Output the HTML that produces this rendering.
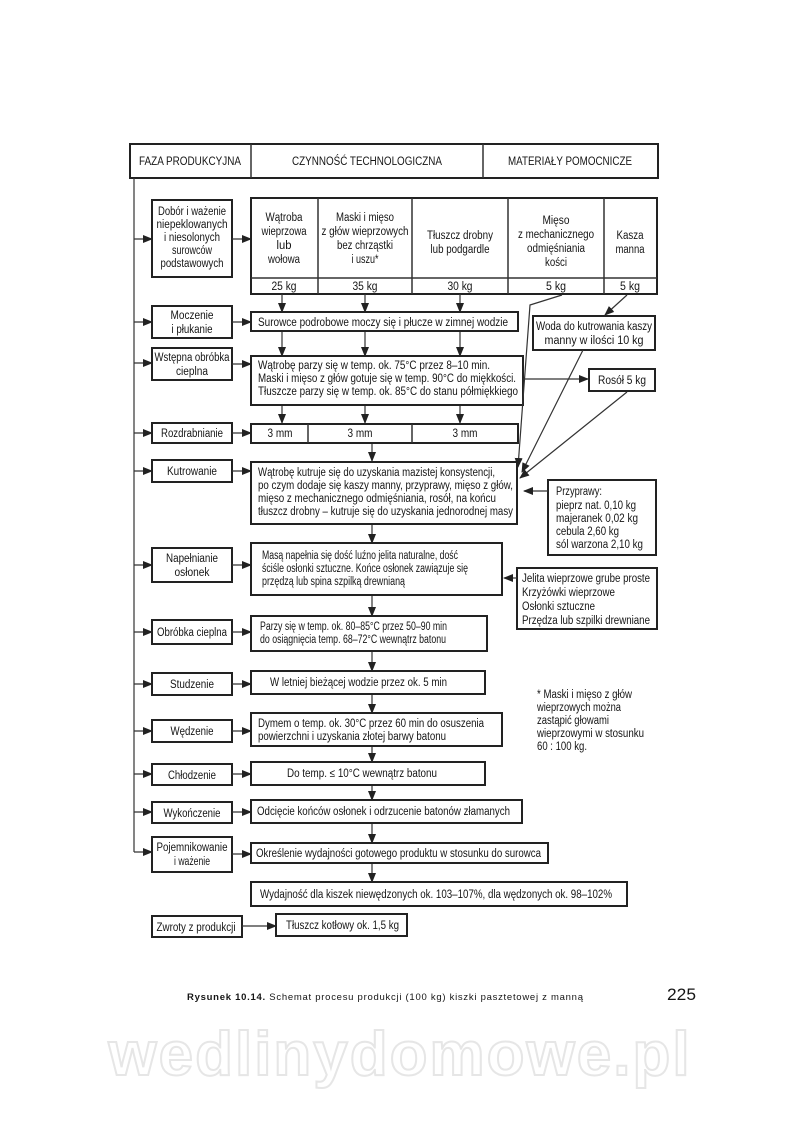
<!DOCTYPE html>
<html><head><meta charset="utf-8"><style>
html,body{margin:0;padding:0;background:#fff}
svg{display:block}
text{font-family:"Liberation Sans",sans-serif;font-size:11.5px;fill:#151515}
.b{fill:#fff;stroke:#222;stroke-width:2}
.l{stroke:#333;stroke-width:1.2;fill:none}
</style></head><body>
<svg width="800" height="1141" viewBox="0 0 800 1141" xmlns="http://www.w3.org/2000/svg">
<defs><marker id="a" markerWidth="10" markerHeight="8" refX="9" refY="4" orient="auto" markerUnits="userSpaceOnUse"><path d="M0,0 L10,4 L0,8 z" fill="#222"/></marker></defs>

<text x="400" y="1075" text-anchor="middle" style="font-size:62px;font-weight:bold;fill:#fff;stroke:#e6e6e6;stroke-width:2;letter-spacing:2px">wedlinydomowe.pl</text>

<rect class="b" x="130" y="144" width="528" height="34"/>
<line class="l" x1="251" y1="144" x2="251" y2="178" style="stroke-width:1.5"/>
<line class="l" x1="483" y1="144" x2="483" y2="178" style="stroke-width:1.5"/>
<text x="190" y="165" text-anchor="middle" textLength="102" lengthAdjust="spacingAndGlyphs">FAZA PRODUKCYJNA</text>
<text x="367" y="165" text-anchor="middle" textLength="150" lengthAdjust="spacingAndGlyphs">CZYNNOŚĆ TECHNOLOGICZNA</text>
<text x="570" y="165" text-anchor="middle" textLength="124" lengthAdjust="spacingAndGlyphs">MATERIAŁY POMOCNICZE</text>

<line class="l" x1="134" y1="178" x2="134" y2="852"/>
<g class="l" marker-end="url(#a)">
<line x1="134" y1="239" x2="152" y2="239"/>
<line x1="134" y1="322" x2="152" y2="322"/>
<line x1="134" y1="363" x2="152" y2="363"/>
<line x1="134" y1="433" x2="152" y2="433"/>
<line x1="134" y1="471" x2="152" y2="471"/>
<line x1="134" y1="565" x2="152" y2="565"/>
<line x1="134" y1="632" x2="152" y2="632"/>
<line x1="134" y1="684" x2="152" y2="684"/>
<line x1="134" y1="731" x2="152" y2="731"/>
<line x1="134" y1="774" x2="152" y2="774"/>
<line x1="134" y1="812" x2="152" y2="812"/>
<line x1="134" y1="852" x2="152" y2="852"/>
</g>

<rect class="b" x="152" y="200" width="80" height="77"/>
<text x="192" y="215" text-anchor="middle" textLength="68" lengthAdjust="spacingAndGlyphs">Dobór i ważenie</text>
<text x="192" y="228" text-anchor="middle" textLength="71" lengthAdjust="spacingAndGlyphs">niepeklowanych</text>
<text x="192" y="241" text-anchor="middle" textLength="56" lengthAdjust="spacingAndGlyphs">i niesolonych</text>
<text x="192" y="254" text-anchor="middle" textLength="40" lengthAdjust="spacingAndGlyphs">surowców</text>
<text x="192" y="267" text-anchor="middle" textLength="63" lengthAdjust="spacingAndGlyphs">podstawowych</text>

<rect class="b" x="152" y="306" width="80" height="32"/>
<text x="192" y="319" text-anchor="middle" textLength="43" lengthAdjust="spacingAndGlyphs">Moczenie</text>
<text x="192" y="333" text-anchor="middle" textLength="41" lengthAdjust="spacingAndGlyphs">i płukanie</text>

<rect class="b" x="152" y="348" width="80" height="32"/>
<text x="192" y="361" text-anchor="middle" textLength="75" lengthAdjust="spacingAndGlyphs">Wstępna obróbka</text>
<text x="192" y="375" text-anchor="middle" textLength="32" lengthAdjust="spacingAndGlyphs">cieplna</text>

<rect class="b" x="152" y="423" width="80" height="20"/>
<text x="192" y="437" text-anchor="middle" textLength="62" lengthAdjust="spacingAndGlyphs">Rozdrabnianie</text>

<rect class="b" x="152" y="460" width="80" height="22"/>
<text x="192" y="475" text-anchor="middle" textLength="50" lengthAdjust="spacingAndGlyphs">Kutrowanie</text>

<rect class="b" x="152" y="548" width="80" height="34"/>
<text x="192" y="562" text-anchor="middle" textLength="52" lengthAdjust="spacingAndGlyphs">Napełnianie</text>
<text x="192" y="576" text-anchor="middle" textLength="35" lengthAdjust="spacingAndGlyphs">osłonek</text>

<rect class="b" x="152" y="620" width="80" height="24"/>
<text x="192" y="636" text-anchor="middle" textLength="70" lengthAdjust="spacingAndGlyphs">Obróbka cieplna</text>

<rect class="b" x="152" y="673" width="80" height="22"/>
<text x="192" y="688" text-anchor="middle" textLength="44" lengthAdjust="spacingAndGlyphs">Studzenie</text>

<rect class="b" x="152" y="720" width="80" height="22"/>
<text x="192" y="735" text-anchor="middle" textLength="43" lengthAdjust="spacingAndGlyphs">Wędzenie</text>

<rect class="b" x="152" y="764" width="80" height="21"/>
<text x="192" y="779" text-anchor="middle" textLength="48" lengthAdjust="spacingAndGlyphs">Chłodzenie</text>

<rect class="b" x="152" y="802" width="80" height="21"/>
<text x="192" y="817" text-anchor="middle" textLength="57" lengthAdjust="spacingAndGlyphs">Wykończenie</text>

<rect class="b" x="152" y="837" width="80" height="35"/>
<text x="192" y="851" text-anchor="middle" textLength="71" lengthAdjust="spacingAndGlyphs">Pojemnikowanie</text>
<text x="192" y="865" text-anchor="middle" textLength="36" lengthAdjust="spacingAndGlyphs">i ważenie</text>

<rect class="b" x="152" y="916" width="90" height="21"/>
<text x="196" y="931" text-anchor="middle" textLength="79" lengthAdjust="spacingAndGlyphs">Zwroty z produkcji</text>

<g class="l" marker-end="url(#a)">
<line x1="232" y1="239" x2="251" y2="239"/>
<line x1="232" y1="322" x2="251" y2="322"/>
<line x1="232" y1="364" x2="251" y2="364"/>
<line x1="232" y1="433" x2="251" y2="433"/>
<line x1="232" y1="471" x2="251" y2="471"/>
<line x1="232" y1="565" x2="251" y2="565"/>
<line x1="232" y1="632" x2="251" y2="632"/>
<line x1="232" y1="684" x2="251" y2="684"/>
<line x1="232" y1="731" x2="251" y2="731"/>
<line x1="232" y1="774" x2="251" y2="774"/>
<line x1="232" y1="812" x2="251" y2="812"/>
<line x1="232" y1="854" x2="251" y2="854"/>
<line x1="242" y1="926" x2="276" y2="926"/>
</g>

<rect class="b" x="251" y="198" width="406" height="96"/>
<line class="l" x1="251" y1="278" x2="657" y2="278" style="stroke-width:1.5"/>
<g class="l" style="stroke-width:1.5">
<line x1="318" y1="198" x2="318" y2="294"/>
<line x1="412" y1="198" x2="412" y2="294"/>
<line x1="508" y1="198" x2="508" y2="294"/>
<line x1="604" y1="198" x2="604" y2="294"/>
</g>
<text x="284" y="221" text-anchor="middle" textLength="37" lengthAdjust="spacingAndGlyphs">Wątroba</text>
<text x="284" y="235" text-anchor="middle" textLength="45" lengthAdjust="spacingAndGlyphs">wieprzowa</text>
<text x="284" y="249" text-anchor="middle" textLength="15" lengthAdjust="spacingAndGlyphs">lub</text>
<text x="284" y="263" text-anchor="middle" textLength="32" lengthAdjust="spacingAndGlyphs">wołowa</text>
<text x="365" y="221" text-anchor="middle" textLength="58" lengthAdjust="spacingAndGlyphs">Maski i mięso</text>
<text x="365" y="235" text-anchor="middle" textLength="87" lengthAdjust="spacingAndGlyphs">z głów wieprzowych</text>
<text x="365" y="249" text-anchor="middle" textLength="56" lengthAdjust="spacingAndGlyphs">bez chrząstki</text>
<text x="365" y="263" text-anchor="middle" textLength="27" lengthAdjust="spacingAndGlyphs">i uszu*</text>
<text x="460" y="239" text-anchor="middle" textLength="66" lengthAdjust="spacingAndGlyphs">Tłuszcz drobny</text>
<text x="460" y="253" text-anchor="middle" textLength="59" lengthAdjust="spacingAndGlyphs">lub podgardle</text>
<text x="556" y="224" text-anchor="middle" textLength="27" lengthAdjust="spacingAndGlyphs">Mięso</text>
<text x="556" y="238" text-anchor="middle" textLength="76" lengthAdjust="spacingAndGlyphs">z mechanicznego</text>
<text x="556" y="252" text-anchor="middle" textLength="58" lengthAdjust="spacingAndGlyphs">odmięśniania</text>
<text x="556" y="266" text-anchor="middle" textLength="22" lengthAdjust="spacingAndGlyphs">kości</text>
<text x="630" y="239" text-anchor="middle" textLength="27" lengthAdjust="spacingAndGlyphs">Kasza</text>
<text x="630" y="253" text-anchor="middle" textLength="29" lengthAdjust="spacingAndGlyphs">manna</text>
<text x="284" y="290" text-anchor="middle" textLength="25" lengthAdjust="spacingAndGlyphs">25 kg</text>
<text x="365" y="290" text-anchor="middle" textLength="25" lengthAdjust="spacingAndGlyphs">35 kg</text>
<text x="460" y="290" text-anchor="middle" textLength="25" lengthAdjust="spacingAndGlyphs">30 kg</text>
<text x="556" y="290" text-anchor="middle" textLength="20" lengthAdjust="spacingAndGlyphs">5 kg</text>
<text x="630" y="290" text-anchor="middle" textLength="20" lengthAdjust="spacingAndGlyphs">5 kg</text>

<g class="l" marker-end="url(#a)">
<line x1="282" y1="294" x2="282" y2="312"/>
<line x1="365" y1="294" x2="365" y2="312"/>
<line x1="460" y1="294" x2="460" y2="312"/>
<line x1="282" y1="331" x2="282" y2="356"/>
<line x1="365" y1="331" x2="365" y2="356"/>
<line x1="460" y1="331" x2="460" y2="356"/>
<line x1="282" y1="405" x2="282" y2="423"/>
<line x1="365" y1="405" x2="365" y2="423"/>
<line x1="460" y1="405" x2="460" y2="423"/>
<line x1="372" y1="443" x2="372" y2="461"/>
<line x1="372" y1="524" x2="372" y2="543"/>
<line x1="372" y1="595" x2="372" y2="616"/>
<line x1="372" y1="651" x2="372" y2="671"/>
<line x1="372" y1="694" x2="372" y2="713"/>
<line x1="372" y1="746" x2="372" y2="762"/>
<line x1="372" y1="785" x2="372" y2="800"/>
<line x1="372" y1="823" x2="372" y2="843"/>
<line x1="372" y1="863" x2="372" y2="882"/>
</g>

<rect class="b" x="251" y="312" width="267" height="19"/>
<text x="258" y="326" textLength="250" lengthAdjust="spacingAndGlyphs">Surowce podrobowe moczy się i płucze w zimnej wodzie</text>

<rect class="b" x="251" y="356" width="272" height="49"/>
<text x="258" y="369" textLength="232" lengthAdjust="spacingAndGlyphs">Wątrobę parzy się w temp. ok. 75°C przez 8–10 min.</text>
<text x="258" y="382" textLength="258" lengthAdjust="spacingAndGlyphs">Maski i mięso z głów gotuje się w temp. 90°C do miękkości.</text>
<text x="258" y="395" textLength="260" lengthAdjust="spacingAndGlyphs">Tłuszcze parzy się w temp. ok. 85°C do stanu półmiękkiego</text>

<rect class="b" x="251" y="424" width="267" height="19"/>
<line class="l" x1="308" y1="424" x2="308" y2="443" style="stroke-width:1.5"/>
<line class="l" x1="412" y1="424" x2="412" y2="443" style="stroke-width:1.5"/>
<text x="280" y="437" text-anchor="middle" textLength="25" lengthAdjust="spacingAndGlyphs">3 mm</text>
<text x="360" y="437" text-anchor="middle" textLength="25" lengthAdjust="spacingAndGlyphs">3 mm</text>
<text x="465" y="437" text-anchor="middle" textLength="25" lengthAdjust="spacingAndGlyphs">3 mm</text>

<rect class="b" x="251" y="462" width="266" height="62"/>
<text x="258" y="476" textLength="237" lengthAdjust="spacingAndGlyphs">Wątrobę kutruje się do uzyskania mazistej konsystencji,</text>
<text x="258" y="489" textLength="255" lengthAdjust="spacingAndGlyphs">po czym dodaje się kaszy manny, przyprawy, mięso z głów,</text>
<text x="258" y="502" textLength="238" lengthAdjust="spacingAndGlyphs">mięso z mechanicznego odmięśniania, rosół, na końcu</text>
<text x="258" y="515" textLength="255" lengthAdjust="spacingAndGlyphs">tłuszcz drobny – kutruje się do uzyskania jednorodnej masy</text>

<rect class="b" x="251" y="543" width="251" height="52"/>
<text x="262" y="559" textLength="196" lengthAdjust="spacingAndGlyphs">Masą napełnia się dość luźno jelita naturalne, dość</text>
<text x="262" y="572" textLength="206" lengthAdjust="spacingAndGlyphs">ściśle osłonki sztuczne. Końce osłonek zawiązuje się</text>
<text x="262" y="585" textLength="143" lengthAdjust="spacingAndGlyphs">przędzą lub spina szpilką drewnianą</text>

<rect class="b" x="251" y="616" width="236" height="35"/>
<text x="260" y="630" textLength="187" lengthAdjust="spacingAndGlyphs">Parzy się w temp. ok. 80–85°C przez 50–90 min</text>
<text x="260" y="643" textLength="186" lengthAdjust="spacingAndGlyphs">do osiągnięcia temp. 68–72°C wewnątrz batonu</text>

<rect class="b" x="251" y="671" width="234" height="23"/>
<text x="270" y="686" textLength="177" lengthAdjust="spacingAndGlyphs">W letniej bieżącej wodzie przez ok. 5 min</text>

<rect class="b" x="251" y="713" width="251" height="33"/>
<text x="258" y="727" textLength="226" lengthAdjust="spacingAndGlyphs">Dymem o temp. ok. 30°C przez 60 min do osuszenia</text>
<text x="258" y="740" textLength="188" lengthAdjust="spacingAndGlyphs">powierzchni i uzyskania złotej barwy batonu</text>

<rect class="b" x="251" y="762" width="234" height="23"/>
<text x="287" y="777" textLength="150" lengthAdjust="spacingAndGlyphs">Do temp. ≤ 10°C wewnątrz batonu</text>

<rect class="b" x="251" y="800" width="271" height="23"/>
<text x="257" y="815" textLength="253" lengthAdjust="spacingAndGlyphs">Odcięcie końców osłonek i odrzucenie batonów złamanych</text>

<rect class="b" x="251" y="843" width="297" height="20"/>
<text x="256" y="857" textLength="285" lengthAdjust="spacingAndGlyphs">Określenie wydajności gotowego produktu w stosunku do surowca</text>

<rect class="b" x="251" y="882" width="376" height="24"/>
<text x="260" y="898" textLength="352" lengthAdjust="spacingAndGlyphs">Wydajność dla kiszek niewędzonych ok. 103–107%, dla wędzonych ok. 98–102%</text>

<rect class="b" x="276" y="914" width="131" height="22"/>
<text x="286" y="929" textLength="113" lengthAdjust="spacingAndGlyphs">Tłuszcz kotłowy ok. 1,5 kg</text>

<rect class="b" x="533" y="316" width="122" height="34"/>
<text x="594" y="330" text-anchor="middle" textLength="116" lengthAdjust="spacingAndGlyphs">Woda do kutrowania kaszy</text>
<text x="594" y="344" text-anchor="middle" textLength="99" lengthAdjust="spacingAndGlyphs">manny w ilości 10 kg</text>

<rect class="b" x="589" y="369" width="66" height="22"/>
<text x="622" y="384" text-anchor="middle" textLength="48" lengthAdjust="spacingAndGlyphs">Rosół 5 kg</text>

<rect class="b" x="548" y="480" width="108" height="75"/>
<text x="556" y="495" textLength="46" lengthAdjust="spacingAndGlyphs">Przyprawy:</text>
<text x="556" y="509" textLength="80" lengthAdjust="spacingAndGlyphs">pieprz nat. 0,10 kg</text>
<text x="556" y="522" textLength="82" lengthAdjust="spacingAndGlyphs">majeranek  0,02 kg</text>
<text x="556" y="535" textLength="63" lengthAdjust="spacingAndGlyphs">cebula 2,60 kg</text>
<text x="556" y="548" textLength="87" lengthAdjust="spacingAndGlyphs">sól warzona 2,10 kg</text>

<rect class="b" x="517" y="568" width="140" height="61"/>
<text x="522" y="582" textLength="128" lengthAdjust="spacingAndGlyphs">Jelita wieprzowe grube proste</text>
<text x="522" y="596" textLength="93" lengthAdjust="spacingAndGlyphs">Krzyżówki wieprzowe</text>
<text x="522" y="610" textLength="73" lengthAdjust="spacingAndGlyphs">Osłonki sztuczne</text>
<text x="522" y="624" textLength="128" lengthAdjust="spacingAndGlyphs">Przędza lub szpilki drewniane</text>

<g class="l" marker-end="url(#a)">
<polyline points="562,295 530,305 518,467"/>
<line x1="627" y1="295" x2="605" y2="315"/>
<line x1="583" y1="350" x2="522" y2="472"/>
<line x1="627" y1="392" x2="520" y2="478"/>
<line x1="523" y1="379" x2="588" y2="379"/>
<line x1="548" y1="491" x2="524" y2="491"/>
<line x1="517" y1="578" x2="504" y2="578"/>
</g>

<text x="537" y="698" textLength="95" lengthAdjust="spacingAndGlyphs">* Maski i mięso z głów</text>
<text x="537" y="711" textLength="84" lengthAdjust="spacingAndGlyphs">wieprzowych można</text>
<text x="537" y="724" textLength="72" lengthAdjust="spacingAndGlyphs">zastąpić głowami</text>
<text x="537" y="737" textLength="107" lengthAdjust="spacingAndGlyphs">wieprzowymi w stosunku</text>
<text x="537" y="750" textLength="50" lengthAdjust="spacingAndGlyphs">60 : 100 kg.</text>

<text x="187" y="1000" style="font-size:9.5px" textLength="396" lengthAdjust="spacing"><tspan style="font-weight:bold">Rysunek 10.14.</tspan> Schemat procesu produkcji (100 kg) kiszki pasztetowej z manną</text>
<text x="667" y="1000" style="font-size:17px" textLength="29" lengthAdjust="spacingAndGlyphs">225</text>
</svg>
</body></html>
